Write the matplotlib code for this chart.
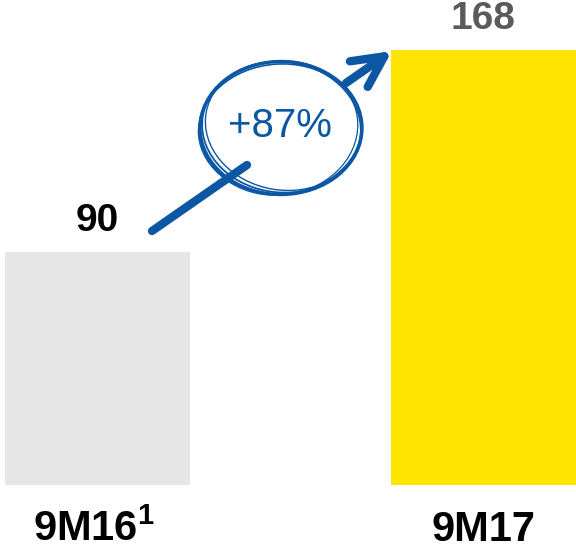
import matplotlib
matplotlib.use('Agg')
import matplotlib.pyplot as plt
from matplotlib.patches import Ellipse

plt.rcParams['mathtext.fontset'] = 'custom'
plt.rcParams['mathtext.bf'] = 'Liberation Sans:bold'
plt.rcParams['mathtext.rm'] = 'Liberation Sans:bold'

categories = ['9M16$^{\\mathbf{1}}$', '9M17']
values = [90, 168]
bar_colors = ['#e6e6e6', '#ffe500']
value_colors = ['#000000', '#5a5a5a']
growth_label = '+87%'
blue = '#0b57a4'

fig = plt.figure(figsize=(5.76, 5.51), dpi=100)
ax = fig.add_axes([0, 66 / 551, 1, 485 / 551])
x = [0, 1]
ax.bar(x, values, width=0.48, color=bar_colors)
ax.set_xlim(-0.253, 1.241)
ax.set_ylim(0, 187.3)
ax.axis('off')

for xi, v, c in zip(x, values, value_colors):
    ax.text(xi, v + 12, str(v), ha='center', va='center', fontsize=28,
            fontweight='bold', color=c, family='Liberation Sans')
for xi, lab, dx in zip(x, categories, [-0.01, 0]):
    ax.text(xi + dx, -17.4, lab, ha='center', va='center', fontsize=30,
            fontweight='bold', color='black', family='Liberation Sans')

# overlay in pixel units for the arrow + sketchy circle
ov = fig.add_axes([0, 0, 1, 1])
ov.set_xlim(0, 576)
ov.set_ylim(551, 0)
ov.axis('off')
ov.patch.set_alpha(0)

ov.plot([152, 247], [231, 165], color=blue, lw=6, solid_capstyle='round')
ov.annotate('', xy=(392, 51), xytext=(346, 83),
            arrowprops=dict(arrowstyle='->, head_length=0.8, head_width=0.4',
                            color=blue, lw=6, mutation_scale=28,
                            shrinkA=0, shrinkB=0))

for dx, dy, w, h, ang, lw in [(0, 0, 162, 133, 0, 2.4),
                              (1, -1, 160, 131, 5, 1.3),
                              (-1, 1, 163, 130, -4, 1.2),
                              (2, -2, 156, 128, 10, 1.0),
                              (-2, 0, 158, 134, -8, 0.9)]:
    ov.add_patch(Ellipse((281 + dx, 128 + dy), w, h, angle=ang,
                         fill=False, edgecolor=blue, lw=lw))
ov.text(280, 126, growth_label, ha='center', va='center', fontsize=29,
        color=blue, family='Liberation Sans')

fig.savefig('out.png', dpi=100)
